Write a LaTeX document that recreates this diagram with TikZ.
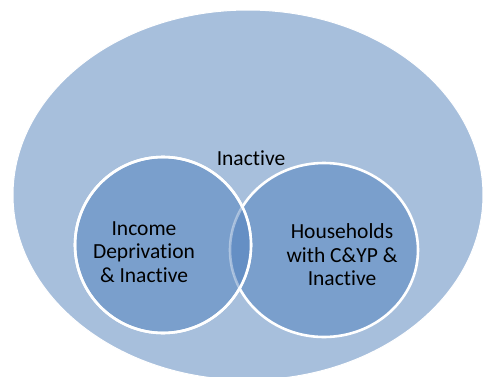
\documentclass[tikz,border=0pt]{standalone}
\usepackage{fontspec}
\setmainfont{Carlito}[Ligatures=NoCommon]
\usepackage{tikz}
\usetikzlibrary{positioning,shapes.geometric}
\definecolor{outerblue}{HTML}{A7BFDC}
\definecolor{setblue}{HTML}{7A9FCC}
\definecolor{bothblue}{HTML}{658FC4}
\tikzset{
  setshape/.style={ellipse, fill=setblue, draw=white, line width=2.6pt},
  lbl/.style={align=center, font=\fontsize{21.5}{23.5}\selectfont, inner sep=0pt},
}
\begin{document}
\begin{tikzpicture}[x=1pt, y=-1pt]
  \useasboundingbox (0,0) rectangle (483,376);
  \clip (0,0) rectangle (483,376);
  % outer population
  \node[ellipse, fill=outerblue, draw=white, line width=1pt,
    minimum width=470pt, minimum height=370pt, inner sep=0pt] (all) at (248,195) {};
  % the two sets
  \node[setshape, minimum width=188pt, minimum height=174pt, inner sep=0pt] (hh) at (324,250) {};
  \node[setshape, minimum width=176pt, minimum height=176pt, inner sep=0pt] (inc) at (163,245) {};
  % overlap, shaded darker
  \begin{scope}
    \clip (inc.center) ellipse [x radius=88pt, y radius=88pt];
    \fill[bothblue] (hh.center) ellipse [x radius=94pt, y radius=87pt];
    \draw[white, opacity=0.4, line width=2.6pt] (hh.center) ellipse [x radius=94pt, y radius=87pt];
  \end{scope}
  \draw[white, line width=2.6pt] (inc.center) ellipse [x radius=88pt, y radius=88pt];
  % labels
  \node[lbl] (inact) at (251,158) {Inactive};
  \node[lbl] (inclbl) at (144,252) {Income\\Deprivation\\\& Inactive};
  \node[lbl] (hhlbl) at (342,255) {Households\\with C\&YP \&\\Inactive};
\end{tikzpicture}
\end{document}
